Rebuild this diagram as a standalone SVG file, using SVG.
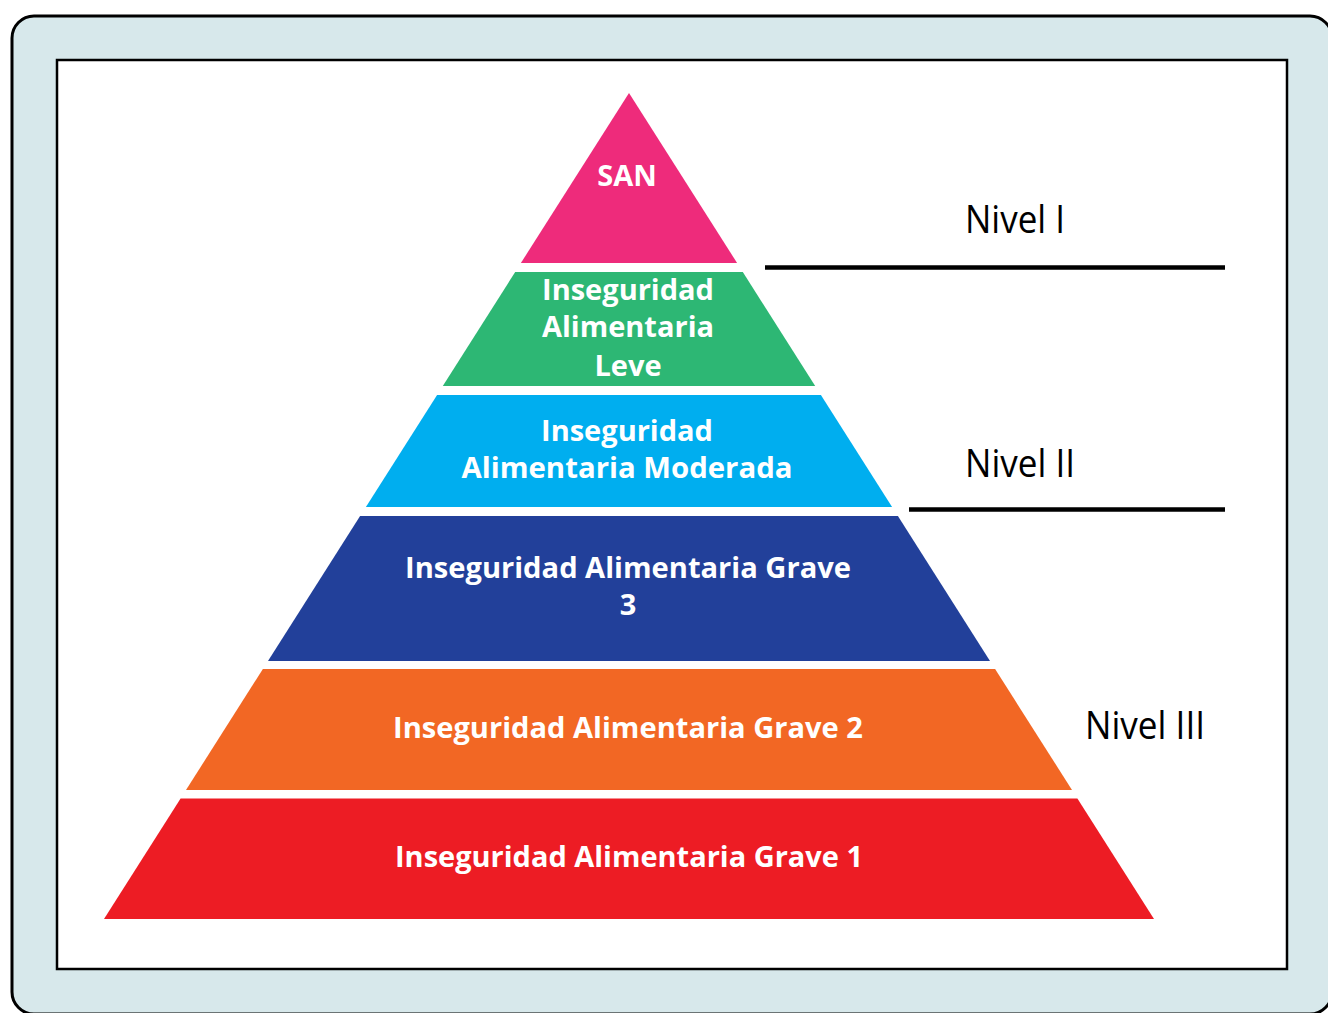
<svg xmlns="http://www.w3.org/2000/svg" width="1328" height="1013" viewBox="0 0 1328 1013">
  <style>
    .lbl { font-family: "Open Sans", "Liberation Sans", sans-serif; font-weight: bold; font-size: 29px; fill: #FFFFFF; text-anchor: middle; }
    .lvl { font-family: "Open Sans", "Liberation Sans", sans-serif; font-size: 38px; fill: #000000; }
    .sep { stroke: #000000; stroke-width: 4.5; fill: none; }
  </style>
  <rect id="frame" x="12" y="16" width="1320" height="998" rx="22" ry="22" fill="#D7E8EB" stroke="#000000" stroke-width="3"/>
  <rect id="panel" x="57" y="60" width="1230" height="909" fill="#FFFFFF" stroke="#000000" stroke-width="2.5"/>

  <g id="san">
    <polygon points="629,93 737.1,263 520.9,263" fill="#EE2B7B"/>
    <text class="lbl" x="627" y="186">SAN</text>
  </g>
  <g id="leve">
    <polygon points="515.2,272 742.8,272 815.2,386 442.8,386" fill="#2DB774"/>
    <text class="lbl" x="628" y="300">Inseguridad</text>
    <text class="lbl" x="628" y="337">Alimentaria</text>
    <text class="lbl" x="628" y="376">Leve</text>
  </g>
  <g id="moderada">
    <polygon points="437.1,395 820.9,395 892.1,507 365.9,507" fill="#00AEEF"/>
    <text class="lbl" x="627" y="441">Inseguridad</text>
    <text class="lbl" x="627" y="478" textLength="331" lengthAdjust="spacingAndGlyphs">Alimentaria Moderada</text>
  </g>
  <g id="grave3">
    <polygon points="360.1,516 897.9,516 990,661 268,661" fill="#22409A"/>
    <text class="lbl" x="628" y="578" textLength="446" lengthAdjust="spacingAndGlyphs">Inseguridad Alimentaria Grave</text>
    <text class="lbl" x="628" y="615">3</text>
  </g>
  <g id="grave2">
    <polygon points="262.9,669 995.1,669 1072,790 186,790" fill="#F26724"/>
    <text class="lbl" x="628" y="738" textLength="470" lengthAdjust="spacingAndGlyphs">Inseguridad Alimentaria Grave 2</text>
  </g>
  <g id="grave1">
    <polygon points="180.6,798.5 1077.4,798.5 1154,919 104,919" fill="#ED1C24"/>
    <text class="lbl" x="629" y="867" textLength="468" lengthAdjust="spacingAndGlyphs">Inseguridad Alimentaria Grave 1</text>
  </g>

  <g id="connectors">
    <line class="sep" x1="765" y1="267.5" x2="1225" y2="267.5"/>
    <line class="sep" x1="909" y1="509.5" x2="1225" y2="509.5"/>
  </g>

  <g id="nivel1">
    <text class="lvl" x="965" y="233" textLength="100" lengthAdjust="spacingAndGlyphs">Nivel I</text>
  </g>
  <g id="nivel2">
    <text class="lvl" x="965" y="477" textLength="110" lengthAdjust="spacingAndGlyphs">Nivel II</text>
  </g>
  <g id="nivel3">
    <text class="lvl" x="1085" y="739" textLength="120" lengthAdjust="spacingAndGlyphs">Nivel III</text>
  </g>
</svg>
